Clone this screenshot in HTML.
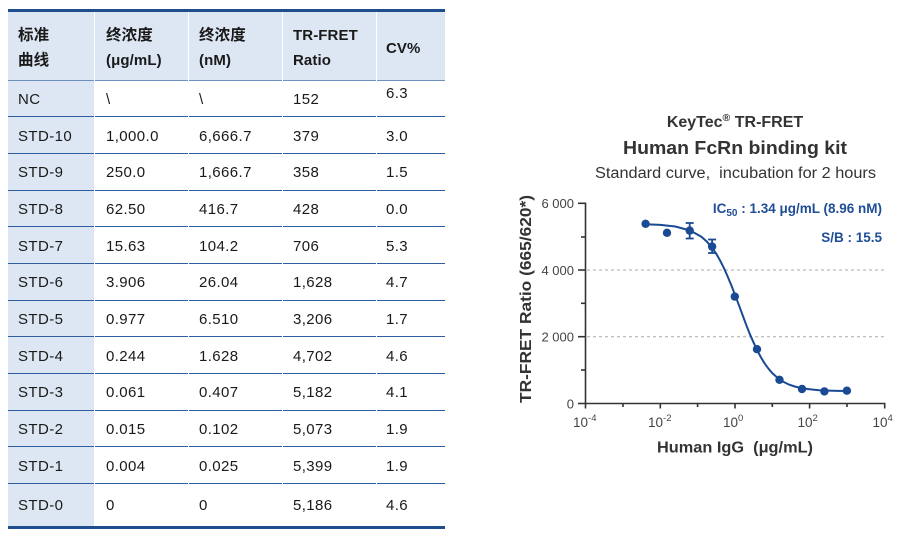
<!DOCTYPE html>
<html><head><meta charset="utf-8">
<style>
html,body{margin:0;padding:0;background:#fff;}
body{width:910px;height:542px;position:relative;overflow:hidden;font-family:"Liberation Sans","Noto Sans CJK SC",sans-serif;color:#1a1a1a;}
.a{position:absolute;}
.hb{background:#dde7f3;}
.ln{position:absolute;height:1.3px;background:#2f5e9e;}
.h{position:absolute;font-weight:bold;font-size:15px;line-height:25px;letter-spacing:0.1px;color:#1a1a1a;white-space:nowrap;}
.h .c{font-size:15.5px;}
.r{position:absolute;left:0;width:450px;}
.r span{position:absolute;top:0;font-size:15px;letter-spacing:0.4px;white-space:nowrap;}
</style></head><body>
<!-- table backgrounds -->
<div class="a" style="left:8px;top:9px;width:437px;height:3px;background:#1f4e8e;"></div>
<div class="a hb" style="left:8px;top:12px;width:86.3px;height:514px;"></div>
<div class="a hb" style="left:95.3px;top:12px;width:92.4px;height:68px;"></div>
<div class="a hb" style="left:188.7px;top:12px;width:93px;height:68px;"></div>
<div class="a hb" style="left:282.7px;top:12px;width:93px;height:68px;"></div>
<div class="a hb" style="left:376.7px;top:12px;width:68.3px;height:68px;"></div>
<div class="a" style="left:8px;top:525.5px;width:437px;height:3px;background:#1f4e8e;"></div>

<!-- row lines -->
<div class="ln" style="top:79.5px;left:8px;width:86.3px;background:#6d8fbe"></div><div class="ln" style="top:79.5px;left:95.3px;width:92.4px;background:#6d8fbe"></div><div class="ln" style="top:79.5px;left:188.7px;width:93px;background:#6d8fbe"></div><div class="ln" style="top:79.5px;left:282.7px;width:93px;background:#6d8fbe"></div><div class="ln" style="top:79.5px;left:376.7px;width:68.3px;background:#6d8fbe"></div>
<div class="ln" style="top:116.2px;left:8px;width:86.3px"></div><div class="ln" style="top:116.2px;left:95.3px;width:92.4px"></div><div class="ln" style="top:116.2px;left:188.7px;width:93px"></div><div class="ln" style="top:116.2px;left:282.7px;width:93px"></div><div class="ln" style="top:116.2px;left:376.7px;width:68.3px"></div>
<div class="ln" style="top:152.8px;left:8px;width:86.3px"></div><div class="ln" style="top:152.8px;left:95.3px;width:92.4px"></div><div class="ln" style="top:152.8px;left:188.7px;width:93px"></div><div class="ln" style="top:152.8px;left:282.7px;width:93px"></div><div class="ln" style="top:152.8px;left:376.7px;width:68.3px"></div>
<div class="ln" style="top:189.5px;left:8px;width:86.3px"></div><div class="ln" style="top:189.5px;left:95.3px;width:92.4px"></div><div class="ln" style="top:189.5px;left:188.7px;width:93px"></div><div class="ln" style="top:189.5px;left:282.7px;width:93px"></div><div class="ln" style="top:189.5px;left:376.7px;width:68.3px"></div>
<div class="ln" style="top:226.2px;left:8px;width:86.3px"></div><div class="ln" style="top:226.2px;left:95.3px;width:92.4px"></div><div class="ln" style="top:226.2px;left:188.7px;width:93px"></div><div class="ln" style="top:226.2px;left:282.7px;width:93px"></div><div class="ln" style="top:226.2px;left:376.7px;width:68.3px"></div>
<div class="ln" style="top:262.8px;left:8px;width:86.3px"></div><div class="ln" style="top:262.8px;left:95.3px;width:92.4px"></div><div class="ln" style="top:262.8px;left:188.7px;width:93px"></div><div class="ln" style="top:262.8px;left:282.7px;width:93px"></div><div class="ln" style="top:262.8px;left:376.7px;width:68.3px"></div>
<div class="ln" style="top:299.5px;left:8px;width:86.3px"></div><div class="ln" style="top:299.5px;left:95.3px;width:92.4px"></div><div class="ln" style="top:299.5px;left:188.7px;width:93px"></div><div class="ln" style="top:299.5px;left:282.7px;width:93px"></div><div class="ln" style="top:299.5px;left:376.7px;width:68.3px"></div>
<div class="ln" style="top:336.2px;left:8px;width:86.3px"></div><div class="ln" style="top:336.2px;left:95.3px;width:92.4px"></div><div class="ln" style="top:336.2px;left:188.7px;width:93px"></div><div class="ln" style="top:336.2px;left:282.7px;width:93px"></div><div class="ln" style="top:336.2px;left:376.7px;width:68.3px"></div>
<div class="ln" style="top:372.8px;left:8px;width:86.3px"></div><div class="ln" style="top:372.8px;left:95.3px;width:92.4px"></div><div class="ln" style="top:372.8px;left:188.7px;width:93px"></div><div class="ln" style="top:372.8px;left:282.7px;width:93px"></div><div class="ln" style="top:372.8px;left:376.7px;width:68.3px"></div>
<div class="ln" style="top:409.5px;left:8px;width:86.3px"></div><div class="ln" style="top:409.5px;left:95.3px;width:92.4px"></div><div class="ln" style="top:409.5px;left:188.7px;width:93px"></div><div class="ln" style="top:409.5px;left:282.7px;width:93px"></div><div class="ln" style="top:409.5px;left:376.7px;width:68.3px"></div>
<div class="ln" style="top:446.2px;left:8px;width:86.3px"></div><div class="ln" style="top:446.2px;left:95.3px;width:92.4px"></div><div class="ln" style="top:446.2px;left:188.7px;width:93px"></div><div class="ln" style="top:446.2px;left:282.7px;width:93px"></div><div class="ln" style="top:446.2px;left:376.7px;width:68.3px"></div>
<div class="ln" style="top:482.8px;left:8px;width:86.3px"></div><div class="ln" style="top:482.8px;left:95.3px;width:92.4px"></div><div class="ln" style="top:482.8px;left:188.7px;width:93px"></div><div class="ln" style="top:482.8px;left:282.7px;width:93px"></div><div class="ln" style="top:482.8px;left:376.7px;width:68.3px"></div>

<!-- header text -->
<div class="h" style="left:18px;top:23px;"><span class="c">标准</span><br><span class="c">曲线</span></div>
<div class="h" style="left:106px;top:23px;"><span class="c">终浓度</span><br>(μg/mL)</div>
<div class="h" style="left:199px;top:23px;"><span class="c">终浓度</span><br>(nM)</div>
<div class="h" style="left:293px;top:23px;">TR-FRET<br>Ratio</div>
<div class="h" style="left:386px;top:36px;">CV%</div>

<!-- data rows -->
<div class="r" style="top:80px;height:37px;line-height:39px;"><span style="left:18px">NC</span><span style="left:106px">\</span><span style="left:199px">\</span><span style="left:293px">152</span><span style="left:386px;top:-6px">6.3</span></div>
<div class="r" style="top:116.7px;height:37px;line-height:39px;"><span style="left:18px">STD-10</span><span style="left:106px">1,000.0</span><span style="left:199px">6,666.7</span><span style="left:293px">379</span><span style="left:386px">3.0</span></div>
<div class="r" style="top:153.3px;height:37px;line-height:39px;"><span style="left:18px">STD-9</span><span style="left:106px">250.0</span><span style="left:199px">1,666.7</span><span style="left:293px">358</span><span style="left:386px">1.5</span></div>
<div class="r" style="top:190px;height:37px;line-height:39px;"><span style="left:18px">STD-8</span><span style="left:106px">62.50</span><span style="left:199px">416.7</span><span style="left:293px">428</span><span style="left:386px">0.0</span></div>
<div class="r" style="top:226.7px;height:37px;line-height:39px;"><span style="left:18px">STD-7</span><span style="left:106px">15.63</span><span style="left:199px">104.2</span><span style="left:293px">706</span><span style="left:386px">5.3</span></div>
<div class="r" style="top:263.3px;height:37px;line-height:39px;"><span style="left:18px">STD-6</span><span style="left:106px">3.906</span><span style="left:199px">26.04</span><span style="left:293px">1,628</span><span style="left:386px">4.7</span></div>
<div class="r" style="top:300px;height:37px;line-height:39px;"><span style="left:18px">STD-5</span><span style="left:106px">0.977</span><span style="left:199px">6.510</span><span style="left:293px">3,206</span><span style="left:386px">1.7</span></div>
<div class="r" style="top:336.7px;height:37px;line-height:39px;"><span style="left:18px">STD-4</span><span style="left:106px">0.244</span><span style="left:199px">1.628</span><span style="left:293px">4,702</span><span style="left:386px">4.6</span></div>
<div class="r" style="top:373.3px;height:37px;line-height:39px;"><span style="left:18px">STD-3</span><span style="left:106px">0.061</span><span style="left:199px">0.407</span><span style="left:293px">5,182</span><span style="left:386px">4.1</span></div>
<div class="r" style="top:410px;height:37px;line-height:39px;"><span style="left:18px">STD-2</span><span style="left:106px">0.015</span><span style="left:199px">0.102</span><span style="left:293px">5,073</span><span style="left:386px">1.9</span></div>
<div class="r" style="top:446.7px;height:37px;line-height:39px;"><span style="left:18px">STD-1</span><span style="left:106px">0.004</span><span style="left:199px">0.025</span><span style="left:293px">5,399</span><span style="left:386px">1.9</span></div>
<div class="r" style="top:483.3px;height:43px;line-height:45px;"><span style="left:18px">STD-0</span><span style="left:106px">0</span><span style="left:199px">0</span><span style="left:293px">5,186</span><span style="left:386px">4.6</span></div>

<!-- chart -->
<svg class="a" style="left:0;top:0" width="910" height="542" viewBox="0 0 910 542" font-family="Liberation Sans, sans-serif">
  <text x="735" y="127" text-anchor="middle" font-weight="bold" font-size="16" fill="#333">KeyTec<tspan font-size="10.5" dy="-6">®</tspan><tspan dy="6"> TR-FRET</tspan></text>
  <text x="735" y="154" text-anchor="middle" font-weight="bold" font-size="18.5" fill="#333" textLength="224" lengthAdjust="spacingAndGlyphs">Human FcRn binding kit</text>
  <text x="735.5" y="178" text-anchor="middle" font-size="15.5" fill="#333" textLength="281" lengthAdjust="spacingAndGlyphs" style="white-space:pre">Standard curve,  incubation for 2 hours</text>

  <text x="882" y="213" text-anchor="end" font-weight="bold" font-size="13.5" fill="#1f4e96">IC<tspan font-size="10" dy="3">50</tspan><tspan dy="-3"> : 1.34 μg/mL (8.96 nM)</tspan></text>
  <text x="882" y="242" text-anchor="end" font-weight="bold" font-size="13.5" fill="#1f4e96">S/B : 15.5</text>

  <line x1="587" y1="270" x2="884" y2="270" stroke="#aaa" stroke-width="1" stroke-dasharray="3,3"/>
  <line x1="587" y1="336.7" x2="884" y2="336.7" stroke="#aaa" stroke-width="1" stroke-dasharray="3,3"/>

  <g stroke="#333" stroke-width="1.6" fill="none">
    <line x1="585.5" y1="202.5" x2="585.5" y2="408.5"/>
    <line x1="584.7" y1="403.5" x2="885.5" y2="403.5"/>
    <line x1="578" y1="203.3" x2="585.5" y2="203.3"/>
    <line x1="581" y1="237" x2="585.5" y2="237"/>
    <line x1="578" y1="270" x2="585.5" y2="270"/>
    <line x1="581" y1="303.3" x2="585.5" y2="303.3"/>
    <line x1="578" y1="336.7" x2="585.5" y2="336.7"/>
    <line x1="581" y1="370" x2="585.5" y2="370"/>
    <line x1="578" y1="403.5" x2="585.5" y2="403.5"/>
    <line x1="623" y1="403.5" x2="623" y2="407"/>
    <line x1="660.3" y1="403.5" x2="660.3" y2="408.5"/>
    <line x1="697.6" y1="403.5" x2="697.6" y2="407"/>
    <line x1="735" y1="403.5" x2="735" y2="408.5"/>
    <line x1="772.3" y1="403.5" x2="772.3" y2="407"/>
    <line x1="809.6" y1="403.5" x2="809.6" y2="408.5"/>
    <line x1="847" y1="403.5" x2="847" y2="407"/>
    <line x1="884.7" y1="403.5" x2="884.7" y2="408.5"/>
  </g>

  <g font-size="13" fill="#444" text-anchor="end">
    <text x="574" y="208">6 000</text>
    <text x="574" y="275">4 000</text>
    <text x="574" y="341.5">2 000</text>
    <text x="574" y="408.5">0</text>
  </g>
  <g font-size="13.5" fill="#444">
    <text x="573" y="427">10<tspan font-size="9.5" dy="-6">-4</tspan></text>
    <text x="648" y="427">10<tspan font-size="9.5" dy="-6">-2</tspan></text>
    <text x="723" y="427">10<tspan font-size="9.5" dy="-6">0</tspan></text>
    <text x="797.5" y="427">10<tspan font-size="9.5" dy="-6">2</tspan></text>
    <text x="872.5" y="427">10<tspan font-size="9.5" dy="-6">4</tspan></text>
  </g>

  <text x="735" y="452.5" text-anchor="middle" font-weight="bold" font-size="15.5" fill="#333" textLength="156" lengthAdjust="spacingAndGlyphs" style="white-space:pre">Human IgG  (μg/mL)</text>
  <text transform="translate(531,299) rotate(-90)" x="0" y="0" text-anchor="middle" font-weight="bold" font-size="15.5" fill="#333" textLength="208" lengthAdjust="spacingAndGlyphs">TR-FRET Ratio (665/620*)</text>

  <path d="M645.5,224.3 L660.4,224.9 L675.3,226.5 L690.2,230.5 L701.4,236.8 L707,241.8 L712.6,248.5 L716.4,254 L720.1,260.5 L723.8,267.8 L727.5,276.1 L731.3,285.2 L735,294.8 L738.8,304.8 L742.5,314.9 L746.2,324.8 L749.9,334.2 L753.7,342.8 L757.4,350.7 L761.1,357.6 L764.8,363.7 L768.6,368.8 L772.3,373.1 L777.9,378.1 L783.5,381.9 L789.1,384.6 L794.7,386.5 L802.2,388.3 L809.6,389.3 L819,390.2 L828.3,390.6 L837.7,390.9 L847.2,391" fill="none" stroke="#1a4a93" stroke-width="2" stroke-linejoin="round"/>

  <g stroke="#1a4a93" stroke-width="1.8">
    <line x1="689.7" y1="223" x2="689.7" y2="238.5"/>
    <line x1="685.7" y1="223" x2="693.7" y2="223"/>
    <line x1="685.7" y1="238.5" x2="693.7" y2="238.5"/>
    <line x1="712.1" y1="239.5" x2="712.1" y2="253"/>
    <line x1="708.1" y1="239.5" x2="716.1" y2="239.5"/>
    <line x1="708.1" y1="253" x2="716.1" y2="253"/>
  </g>
  <g fill="#1a4a93">
    <circle cx="645.6" cy="223.8" r="4.2"/>
    <circle cx="667" cy="232.8" r="4.2"/>
    <circle cx="689.7" cy="230.6" r="4.2"/>
    <circle cx="712.1" cy="246.6" r="4.2"/>
    <circle cx="734.8" cy="296.6" r="4.2"/>
    <circle cx="757" cy="349.2" r="4.2"/>
    <circle cx="779.5" cy="379.8" r="4.2"/>
    <circle cx="802" cy="389" r="4.2"/>
    <circle cx="824.4" cy="391.4" r="4.2"/>
    <circle cx="846.9" cy="390.7" r="4.2"/>
  </g>
</svg>
</body></html>
